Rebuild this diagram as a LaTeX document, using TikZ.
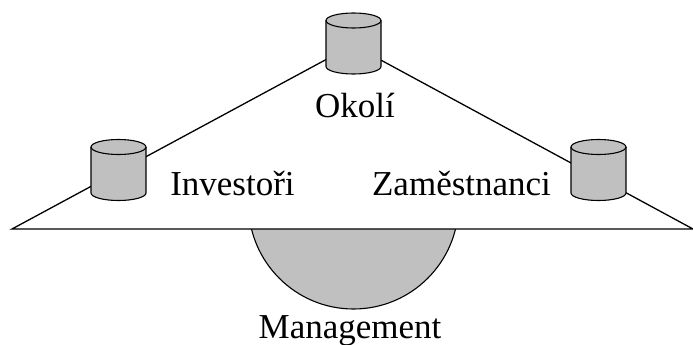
\documentclass[tikz,border=0pt]{standalone}
\usepackage{fontspec}
\setmainfont{Liberation Serif}
\definecolor{cangray}{HTML}{C0C0C0}
\tikzset{
  outline/.style={draw=black, line width=1.1pt},
  lbl/.style={anchor=base, inner sep=0pt, font=\fontsize{35}{42}\selectfont},
  pics/can/.style={code={
    \fill[cangray] (-27.5,-23) -- (-27.5,23)
      arc[start angle=180, end angle=0, x radius=27.5, y radius=7.5]
      -- (27.5,-23) arc[start angle=0, end angle=-180, x radius=27.5, y radius=7.5] -- cycle;
    \draw[outline] (-27.5,-23) -- (-27.5,23)
      arc[start angle=180, end angle=0, x radius=27.5, y radius=7.5] -- (27.5,-23);
    \draw[outline] (0,-23) ellipse[x radius=27.5, y radius=7.5];
  }}
}
\begin{document}
\begin{tikzpicture}[x=1pt, y=-1pt]
  \useasboundingbox (0,0) rectangle (693,345);
  % corners of the triangle
  \coordinate (L) at (12,229);
  \coordinate (R) at (693,229);
  \coordinate (T) at (353,45);
  % management disc behind the base
  \coordinate (M) at (353.5,204);
  \filldraw[cangray, outline] (M) circle[radius=105];
  % triangle
  \filldraw[fill=white, draw=black, line width=1.3pt, line join=miter] (L) -- (T) -- (R) -- cycle;
  % cylinders at the corners
  \pic (top) at (353.5,43.5) {can};
  \pic (left) at (118.5,170) {can};
  \pic (right) at (598.5,170) {can};
  % labels
  \node[lbl] (okoli) at (355,117) {Okolí};
  \node[lbl] (invest) at (232.5,195) {Investoři};
  \node[lbl] (zam) at (461.5,195) {Zaměstnanci};
  \node[lbl] (mgmt) at (350,338) {Management};
\end{tikzpicture}
\end{document}
